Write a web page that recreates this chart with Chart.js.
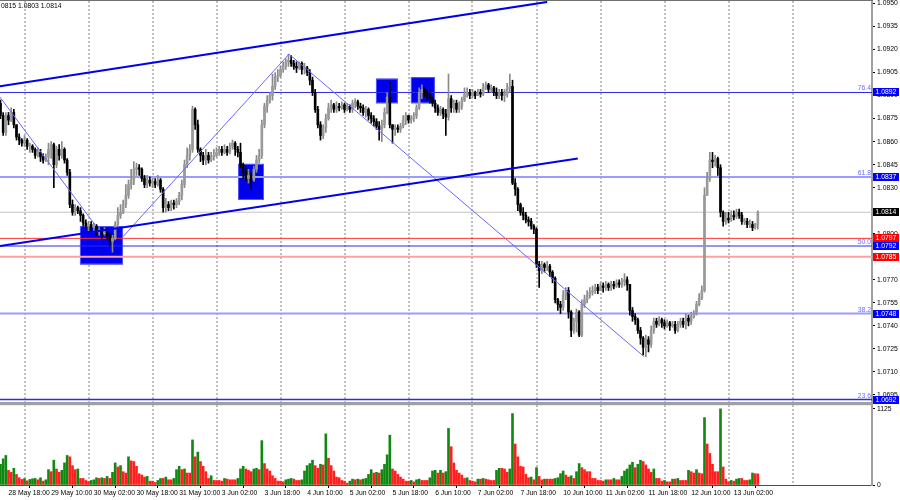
<!DOCTYPE html>
<html><head><meta charset="utf-8">
<script src="https://cdn.jsdelivr.net/npm/chart.js@4.4.1/dist/chart.umd.min.js"></script>
<style>
html,body{margin:0;padding:0;background:#fff;width:900px;height:500px;overflow:hidden}
#wrap{position:relative;width:900px;height:500px}
#c1{position:absolute;left:0;top:0}
#c2{position:absolute;left:0;top:404px}
</style></head><body>
<div id="wrap"><canvas id="c1" width="900" height="404"></canvas><canvas id="c2" width="900" height="96"></canvas></div>
<script>
// ---------- DATA (EURUSD H1, 28 May 15:00 .. 13 Jun 11:00) ----------
const headerText = "0815 1.0803 1.0814";
const firstOpen = 1.0885;
const closes = [
1.0877,1.0866,1.0877,1.0874,1.0879,1.0871,1.0863,1.0861,1.0859,1.0861,
1.0857,1.0857,1.0855,1.0851,1.0853,1.0850,1.0848,1.0850,1.0855,1.0858,
1.0845,1.0855,1.0851,1.0855,1.0848,1.0840,1.0819,1.0814,1.0817,1.0815,
1.0812,1.0807,1.0805,1.0806,1.0804,1.0805,1.0801,1.0802,1.0800,1.0802,
1.0799,1.0795,1.0797,1.0806,1.0812,1.0814,1.0819,1.0825,1.0832,1.0835,
1.0842,1.0843,1.0842,1.0836,1.0832,1.0835,1.0833,1.0834,1.0832,1.0835,
1.0829,1.0817,1.0819,1.0817,1.0820,1.0819,1.0821,1.0825,1.0832,1.0845,
1.0851,1.0855,1.0881,1.0871,1.0855,1.0851,1.0848,1.0851,1.0848,1.0850,
1.0851,1.0853,1.0855,1.0853,1.0855,1.0853,1.0857,1.0859,1.0855,1.0853,
1.0845,1.0840,1.0836,1.0838,1.0835,1.0842,1.0848,1.0851,1.0871,1.0883,
1.0887,1.0890,1.0896,1.0902,1.0903,1.0907,1.0909,1.0912,1.0913,1.0911,
1.0909,1.0908,1.0911,1.0907,1.0908,1.0905,1.0900,1.0892,1.0881,1.0871,
1.0864,1.0869,1.0875,1.0882,1.0884,1.0881,1.0883,1.0882,1.0884,1.0881,
1.0883,1.0881,1.0885,1.0886,1.0883,1.0882,1.0879,1.0881,1.0877,1.0875,
1.0873,1.0870,1.0868,1.0871,1.0879,1.0889,1.0871,1.0868,1.0869,1.0868,
1.0870,1.0874,1.0877,1.0874,1.0875,1.0877,1.0882,1.0892,1.0894,1.0892,
1.0890,1.0888,1.0885,1.0882,1.0879,1.0881,1.0878,1.0876,1.0888,1.0882,
1.0885,1.0881,1.0883,1.0887,1.0891,1.0892,1.0890,1.0892,1.0890,1.0892,
1.0891,1.0895,1.0897,1.0894,1.0895,1.0892,1.0890,1.0892,1.0890,1.0891,
1.0895,1.0896,1.0833,1.0829,1.0819,1.0814,1.0812,1.0809,1.0808,1.0805,
1.0803,1.0780,1.0776,1.0780,1.0778,1.0779,1.0775,1.0771,1.0757,1.0754,
1.0752,1.0760,1.0763,1.0749,1.0737,1.0743,1.0749,1.0734,1.0754,1.0757,
1.0760,1.0762,1.0763,1.0765,1.0763,1.0766,1.0765,1.0767,1.0765,1.0767,
1.0766,1.0768,1.0767,1.0769,1.0770,1.0767,1.0750,1.0746,1.0744,1.0737,
1.0732,1.0726,1.0731,1.0728,1.0737,1.0743,1.0741,1.0744,1.0742,1.0740,
1.0742,1.0740,1.0741,1.0737,1.0741,1.0743,1.0741,1.0745,1.0743,1.0746,
1.0748,1.0754,1.0758,1.0763,1.0825,1.0836,1.0848,1.0847,1.0849,1.0843,
1.0814,1.0808,1.0810,1.0809,1.0812,1.0811,1.0814,1.0812,1.0808,1.0808,
1.0806,1.0806,1.0804,1.0806,1.0814];
const highs = [
1.0887,1.0879,1.0879,1.0879,1.0882,1.0881,1.0871,1.0865,1.0862,1.0864,
1.0862,1.0859,1.0858,1.0856,1.0856,1.0855,1.0852,1.0852,1.0859,1.0860,
1.0859,1.0857,1.0858,1.0860,1.0856,1.0849,1.0842,1.0822,1.0819,1.0818,
1.0817,1.0813,1.0809,1.0808,1.0808,1.0807,1.0806,1.0804,1.0804,1.0804,
1.0803,1.0800,1.0799,1.0808,1.0817,1.0819,1.0822,1.0832,1.0835,1.0842,
1.0847,1.0846,1.0845,1.0843,1.0838,1.0838,1.0837,1.0836,1.0836,1.0838,
1.0836,1.0830,1.0823,1.0821,1.0822,1.0822,1.0823,1.0827,1.0835,1.0848,
1.0856,1.0858,1.0883,1.0882,1.0874,1.0856,1.0853,1.0855,1.0853,1.0853,
1.0855,1.0856,1.0857,1.0857,1.0858,1.0857,1.0859,1.0861,1.0860,1.0857,
1.0859,1.0846,1.0843,1.0842,1.0840,1.0844,1.0851,1.0855,1.0874,1.0885,
1.0890,1.0892,1.0904,1.0905,1.0907,1.0909,1.0912,1.0914,1.0917,1.0916,
1.0913,1.0912,1.0912,1.0912,1.0911,1.0909,1.0907,1.0902,1.0894,1.0883,
1.0873,1.0871,1.0878,1.0885,1.0887,1.0885,1.0886,1.0885,1.0886,1.0885,
1.0885,1.0884,1.0887,1.0888,1.0887,1.0885,1.0884,1.0883,1.0882,1.0879,
1.0877,1.0875,1.0873,1.0874,1.0882,1.0892,1.0899,1.0871,1.0871,1.0871,
1.0872,1.0877,1.0879,1.0877,1.0877,1.0879,1.0884,1.0895,1.0897,1.0895,
1.0894,1.0892,1.0889,1.0887,1.0884,1.0883,1.0882,1.0881,1.0904,1.0890,
1.0887,1.0887,1.0886,1.0889,1.0895,1.0895,1.0894,1.0894,1.0893,1.0894,
1.0894,1.0898,1.0899,1.0898,1.0897,1.0896,1.0895,1.0894,1.0894,1.0894,
1.0898,1.0904,1.0900,1.0836,1.0830,1.0820,1.0817,1.0814,1.0811,1.0810,
1.0806,1.0804,1.0782,1.0782,1.0781,1.0782,1.0780,1.0776,1.0772,1.0758,
1.0756,1.0763,1.0765,1.0765,1.0750,1.0745,1.0751,1.0750,1.0757,1.0760,
1.0763,1.0765,1.0766,1.0767,1.0767,1.0768,1.0768,1.0769,1.0768,1.0769,
1.0769,1.0770,1.0770,1.0771,1.0774,1.0772,1.0767,1.0752,1.0748,1.0745,
1.0739,1.0733,1.0734,1.0733,1.0740,1.0745,1.0745,1.0746,1.0745,1.0744,
1.0744,1.0743,1.0743,1.0743,1.0743,1.0745,1.0745,1.0748,1.0747,1.0749,
1.0750,1.0756,1.0761,1.0766,1.0830,1.0840,1.0853,1.0853,1.0851,1.0850,
1.0845,1.0815,1.0814,1.0814,1.0815,1.0815,1.0816,1.0816,1.0814,1.0810,
1.0810,1.0809,1.0808,1.0807,1.0815];
const lows = [
1.0875,1.0864,1.0864,1.0871,1.0873,1.0869,1.0861,1.0858,1.0857,1.0857,
1.0855,1.0853,1.0853,1.0849,1.0850,1.0847,1.0846,1.0847,1.0845,1.0849,
1.0830,1.0843,1.0848,1.0849,1.0846,1.0838,1.0817,1.0812,1.0812,1.0813,
1.0808,1.0805,1.0803,1.0802,1.0802,1.0801,1.0799,1.0799,1.0797,1.0799,
1.0796,1.0792,1.0788,1.0796,1.0804,1.0810,1.0813,1.0817,1.0823,1.0829,
1.0832,1.0838,1.0838,1.0834,1.0830,1.0830,1.0831,1.0830,1.0830,1.0831,
1.0827,1.0814,1.0814,1.0815,1.0815,1.0816,1.0817,1.0819,1.0822,1.0830,
1.0843,1.0848,1.0853,1.0868,1.0853,1.0847,1.0845,1.0845,1.0846,1.0847,
1.0848,1.0850,1.0851,1.0851,1.0852,1.0851,1.0852,1.0855,1.0851,1.0850,
1.0843,1.0836,1.0834,1.0833,1.0829,1.0834,1.0840,1.0846,1.0849,1.0869,
1.0879,1.0885,1.0887,1.0894,1.0899,1.0902,1.0905,1.0907,1.0909,1.0909,
1.0907,1.0905,1.0907,1.0904,1.0904,1.0903,1.0897,1.0890,1.0879,1.0869,
1.0861,1.0862,1.0866,1.0874,1.0879,1.0879,1.0879,1.0880,1.0881,1.0879,
1.0880,1.0879,1.0879,1.0882,1.0881,1.0879,1.0877,1.0876,1.0874,1.0872,
1.0870,1.0868,1.0861,1.0860,1.0869,1.0878,1.0869,1.0859,1.0864,1.0866,
1.0866,1.0869,1.0871,1.0872,1.0872,1.0873,1.0875,1.0881,1.0888,1.0889,
1.0887,1.0885,1.0883,1.0879,1.0877,1.0877,1.0875,1.0864,1.0874,1.0879,
1.0879,1.0879,1.0879,1.0881,1.0886,1.0889,1.0888,1.0889,1.0888,1.0890,
1.0889,1.0890,1.0894,1.0892,1.0892,1.0890,1.0888,1.0888,1.0887,1.0886,
1.0889,1.0892,1.0832,1.0825,1.0815,1.0812,1.0809,1.0807,1.0805,1.0803,
1.0800,1.0778,1.0765,1.0774,1.0775,1.0776,1.0772,1.0768,1.0755,1.0750,
1.0748,1.0750,1.0757,1.0745,1.0733,1.0735,1.0736,1.0733,1.0733,1.0752,
1.0755,1.0758,1.0760,1.0761,1.0761,1.0763,1.0762,1.0763,1.0763,1.0763,
1.0764,1.0765,1.0765,1.0765,1.0766,1.0763,1.0747,1.0743,1.0741,1.0735,
1.0728,1.0721,1.0720,1.0723,1.0726,1.0735,1.0739,1.0740,1.0739,1.0738,
1.0739,1.0737,1.0739,1.0735,1.0736,1.0739,1.0739,1.0738,1.0740,1.0741,
1.0745,1.0747,1.0753,1.0757,1.0762,1.0825,1.0834,1.0843,1.0844,1.0838,
1.0811,1.0805,1.0806,1.0807,1.0808,1.0809,1.0810,1.0810,1.0806,1.0806,
1.0804,1.0804,1.0802,1.0803,1.0803];
const volumes = [
307,387,437,217,187,247,157,107,82,95,
62,82,92,97,77,107,57,77,227,197,
367,237,187,217,327,437,417,287,227,237,
97,97,67,52,67,77,107,97,107,97,
127,97,187,327,267,287,197,177,417,357,
347,277,167,147,117,127,57,57,37,67,
97,97,117,77,77,97,227,277,227,237,
177,177,667,417,487,347,277,197,97,137,
67,67,67,57,97,87,77,77,77,97,
237,277,237,217,197,237,247,227,657,317,
237,207,137,97,57,57,47,77,87,97,
87,67,67,77,207,287,317,367,287,247,
307,297,757,397,287,207,117,107,67,57,
27,57,87,77,87,77,87,97,157,227,
177,187,177,227,307,447,737,237,207,157,
117,87,57,57,67,47,77,87,67,67,
67,107,207,217,177,217,177,197,837,567,
327,217,177,147,97,107,67,57,47,87,
87,97,87,77,67,67,217,247,247,237,
187,237,1057,607,417,277,267,157,107,117,
77,257,127,77,87,87,87,87,97,107,
167,207,147,117,137,97,197,317,257,227,
197,197,97,97,67,67,57,77,77,77,
97,77,77,127,207,237,297,337,257,307,
367,347,297,237,187,237,97,97,57,67,
47,47,87,87,97,67,67,67,217,197,
177,227,177,167,997,607,467,307,197,197,
1127,267,87,47,67,57,87,97,97,67,
67,77,177,167,165];
const timeLabels = ["28 May 18:00","29 May 10:00","30 May 02:00","30 May 18:00","31 May 10:00","3 Jun 02:00","3 Jun 18:00","4 Jun 10:00","5 Jun 02:00","5 Jun 18:00","6 Jun 10:00","7 Jun 02:00","7 Jun 18:00","10 Jun 10:00","11 Jun 02:00","11 Jun 18:00","12 Jun 10:00","13 Jun 02:00"];
const labelBars = [3,19,35,51,67,83,99,115,131,147,163,179,195,211,227,243,259,275];
const gridBars = [9,33,57,81,105,129,153,177,201,225,249,273,297];
const priceTicks = [1.0950,1.0935,1.0920,1.0905,1.0890,1.0875,1.0860,1.0845,1.0830,1.0815,1.0800,1.0785,1.0770,1.0755,1.0740,1.0725,1.0710,1.0695];
const volumeTicks = [1125,0];
// fibonacci levels
const fibValues = [1.0892,1.0837,1.0792,1.0748,1.0692];
const fibNames = ["76.4","61.8","50.0","38.2","23.6"];
// other horizontal levels
const bidPrice = 1.0814;
const redLevels = [1.0797,1.0785];
// trend lines (bar index, price)
const upperChannel = [{x:-0.2,y:1.0896},{x:205,y:1.0951}];
const lowerChannel = [{x:-0.2,y:1.0792},{x:216.5,y:1.0849}];
const waveA = [{x:-0.2,y:1.0889},{x:35.8,y:1.0805}];
const waveB = [{x:45.9,y:1.0798},{x:108.2,y:1.0917},{x:241.3,y:1.0720}];
// zones (bar index range, price range)
const zoneStart = [29.8,89.1,140.8,153.9];
const zoneEnd   = [45.9,98.8,149.0,162.9];
const zoneTop   = [1.0805,1.08455,1.0901,1.0902];
const zoneBottom= [1.0780,1.0822,1.0885,1.0885];

// ---------- STYLE ----------
const FONT = "'Liberation Sans', Arial, sans-serif";
const FS = 6.8;
const xMin = -0.1875, xMax = 326.8125;
const fibLineStyle = [{c:'#2b2be6',w:1},{c:'#9c9cff',w:2},{c:'#2b2be6',w:1},{c:'#9c9cff',w:2},{c:'#2b2be6',w:1.5}];
const redLineStyle = [{c:'#ff3030',w:1},{c:'#ffa0a0',w:2}];

// ---------- TABLES ----------
const opens = closes.map((c,i)=> i===0 ? firstOpen : closes[i-1]);
const wickData = closes.map((c,i)=>({x:i, y:[Math.min(lows[i],opens[i],c), Math.max(highs[i],opens[i],c)], bull:c>=opens[i]}));
const bodyData = closes.map((c,i)=>({x:i, y:[Math.min(opens[i],c), Math.max(opens[i],c)], bull:c>=opens[i]}));
const volData = volumes.map((v,i)=>({x:i, y:v, up: i===0 || v>volumes[i-1]}));

function drawGrid(chart){
  const {ctx, chartArea:a, scales:{x}} = chart;
  ctx.save();
  ctx.strokeStyle='#ababab'; ctx.lineWidth=1.5; ctx.setLineDash([2,2]);
  gridBars.forEach(b=>{
    const px = Math.round(x.getPixelForValue(b));
    ctx.beginPath(); ctx.moveTo(px,a.top); ctx.lineTo(px,a.bottom); ctx.stroke();
  });
  ctx.restore();
}
function hline(ctx,a,y,v,c,w){
  const py=y.getPixelForValue(v);
  ctx.strokeStyle=c; ctx.lineWidth=w;
  ctx.beginPath(); ctx.moveTo(a.left,py); ctx.lineTo(a.right,py); ctx.stroke();
}
function tag(ctx,y,v,bg){
  const py=y.getPixelForValue(v);
  ctx.fillStyle=bg; ctx.fillRect(873,Math.round(py)-4,26,8);
  ctx.fillStyle='#fff'; ctx.textBaseline='middle'; ctx.textAlign='left';
  ctx.fillText(v.toFixed(4),875.5,Math.round(py)+0.5);
}

const mainDecor = {
  id:'mainDecor',
  beforeDatasetsDraw(chart){
    const {ctx, chartArea:a, scales:{x,y}} = chart;
    drawGrid(chart);
    ctx.save();
    zoneStart.forEach((s,k)=>{
      const x0=x.getPixelForValue(s), x1=x.getPixelForValue(zoneEnd[k]);
      const y0=y.getPixelForValue(zoneTop[k]), y1=y.getPixelForValue(zoneBottom[k]);
      ctx.fillStyle='#0000ee'; ctx.fillRect(x0,y0,x1-x0,y1-y0);
      ctx.strokeStyle='#5555ff'; ctx.lineWidth=1; ctx.strokeRect(x0+0.5,y0+0.5,x1-x0-1,y1-y0-1);
    });
    hline(ctx,a,y,bidPrice,'#c4c4c4',1);
    redLevels.forEach((v,k)=>hline(ctx,a,y,v,redLineStyle[k].c,redLineStyle[k].w));
    fibValues.forEach((v,k)=>hline(ctx,a,y,v,fibLineStyle[k].c,fibLineStyle[k].w));
    ctx.restore();
  },
  afterDraw(chart){
    const {ctx, chartArea:a, scales:{y}} = chart;
    ctx.save();
    ctx.font = FS+'px '+FONT;
    ctx.fillStyle='#6a6aff'; ctx.textAlign='right'; ctx.textBaseline='bottom';
    fibValues.forEach((v,k)=>{ ctx.fillText(fibNames[k], a.right-1, y.getPixelForValue(v)-0.5); });
    tag(ctx,y,fibValues[0],'#0000ff');
    tag(ctx,y,fibValues[1],'#0000ff');
    tag(ctx,y,bidPrice,'#000000');
    tag(ctx,y,redLevels[0],'#ff0000');
    tag(ctx,y,fibValues[2],'#0000ff');
    tag(ctx,y,redLevels[1],'#ff0000');
    tag(ctx,y,fibValues[3],'#0000ff');
    tag(ctx,y,fibValues[4],'#0000ff');
    ctx.fillStyle='#000'; ctx.textAlign='left'; ctx.textBaseline='middle';
    ctx.fillText(headerText,1,6.5);
    ctx.fillStyle='#707070'; ctx.fillRect(0,0,873,1);
    ctx.fillStyle='#a0a0a0'; ctx.fillRect(0,402,873,2);
    ctx.restore();
  }
};
const volDecor = {
  id:'volDecor',
  beforeDatasetsDraw(chart){ drawGrid(chart); },
  afterDraw(chart){
    const ctx=chart.ctx; ctx.save();
    ctx.fillStyle='#a0a0a0'; ctx.fillRect(0,0,873,1.2);
    ctx.restore();
  }
};

Chart.defaults.font.family = FONT;
Chart.defaults.font.size = FS;
Chart.defaults.color = '#000';

new Chart(document.getElementById('c1'), {
  type:'bar',
  data:{datasets:[
    {type:'line', data:upperChannel, borderColor:'#0000ee', borderWidth:2, pointRadius:0, order:0},
    {type:'line', data:lowerChannel, borderColor:'#0000ee', borderWidth:2, pointRadius:0, order:0},
    {type:'line', data:waveA, borderColor:'#6868ff', borderWidth:1, pointRadius:0, order:0},
    {type:'line', data:waveB, borderColor:'#6868ff', borderWidth:1, pointRadius:0, order:0},
    {data:bodyData, backgroundColor:c=>(c.raw&&c.raw.bull)?'#9a9a9a':'#000000', barThickness:2, grouped:false, minBarLength:1, order:1},
    {data:wickData, backgroundColor:c=>(c.raw&&c.raw.bull)?'#8a8a8a':'#000000', barThickness:1, grouped:false, order:2}
  ]},
  options:{
    responsive:false, animation:false, events:[],
    layout:{padding:{top:1,bottom:2,left:0,right:0}},
    plugins:{legend:{display:false}, tooltip:{enabled:false}},
    scales:{
      x:{type:'linear', display:false, min:xMin, max:xMax, offset:false},
      y:{position:'right', min:1.06904, max:1.09516,
        afterBuildTicks:s=>{ s.ticks = priceTicks.map(v=>({value:v})); },
        afterFit:s=>{ s.width=28; s.paddingTop=0; s.paddingBottom=0; },
        ticks:{callback:v=>Number(v).toFixed(4), padding:2, autoSkip:false, color:'#000', font:{size:FS,family:FONT}},
        grid:{drawOnChartArea:false, drawTicks:true, tickLength:3, tickColor:'#000', tickWidth:1},
        border:{display:true, color:'#a0a0a0', width:2}
      }
    }
  },
  plugins:[mainDecor]
});

new Chart(document.getElementById('c2'), {
  type:'bar',
  data:{datasets:[
    {data:volData, yAxisID:'yv', backgroundColor:c=>(c.raw&&c.raw.up)?'#118811':'#ff1f1f', barThickness:2, grouped:false}
  ]},
  options:{
    responsive:false, animation:false, events:[],
    layout:{padding:{top:1,bottom:0,left:0,right:0}},
    plugins:{legend:{display:false}, tooltip:{enabled:false}},
    scales:{
      x:{type:'linear', position:'bottom', min:xMin, max:xMax, offset:false,
        afterBuildTicks:s=>{ s.ticks = labelBars.map(v=>({value:v})); },
        afterFit:s=>{ s.height=15; s.paddingLeft=0; s.paddingRight=0; },
        ticks:{callback:(v,i)=>timeLabels[i], align:'start', maxRotation:0, minRotation:0, autoSkip:false, padding:1, color:'#000', font:{size:FS,family:FONT}},
        grid:{drawOnChartArea:false, drawTicks:true, tickLength:3, tickColor:'#000'},
        border:{display:true, color:'#505050', width:1}
      },
      yv:{position:'right', min:0, max:1184,
        afterBuildTicks:s=>{ s.ticks = volumeTicks.map(v=>({value:v})); },
        afterFit:s=>{ s.width=28; s.paddingTop=0; s.paddingBottom=0; },
        ticks:{callback:v=>String(v), padding:2, autoSkip:false, color:'#000', font:{size:FS,family:FONT}},
        grid:{drawOnChartArea:false, drawTicks:true, tickLength:3, tickColor:'#000'},
        border:{display:true, color:'#a0a0a0', width:2}
      }
    }
  },
  plugins:[volDecor]
});
</script>
</body></html>
